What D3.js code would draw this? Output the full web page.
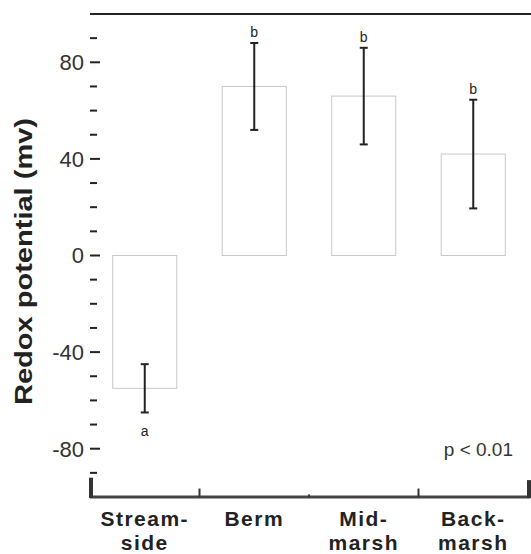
<!DOCTYPE html>
<html>
<head>
<meta charset="utf-8">
<script src="https://cdn.jsdelivr.net/npm/d3@7"></script>
<style>
body { margin: 0; background: white; }
text { font-family: "Liberation Sans", Arial, sans-serif; }
</style>
</head>
<body>
<svg width="531" height="554"></svg>
<script>
'use strict';

// chart values
const sites = ['Stream-side', 'Berm', 'Mid-marsh', 'Back-marsh'];
const siteLines = [['Stream-', 'side'], ['Berm'], ['Mid-', 'marsh'], ['Back-', 'marsh']];
const means = [-55, 70, 66, 42];
const errors = [10, 18, 20, 22.5];
const letters = ['a', 'b', 'b', 'b'];
const majorTicks = [-80, -40, 0, 40, 80];
const minorTicks = [-90, -70, -60, -50, -30, -20, -10, 10, 20, 30, 50, 60, 70, 90];

const opts = {
	left: 90,
	right: 528,
	top: 14,
	bottom: 497,
	ink: '#222'
};

const svg = d3.select('svg');

const x = d3.scaleBand()
	.domain(sites)
	.range([opts.left, opts.right]);

const y = d3.scaleLinear()
	.domain([-100, 100])
	.range([opts.bottom, opts.top]);

const barW = x.bandwidth() * 0.585;
const cx = (d) => x(d) + x.bandwidth() / 2;

// top frame line
svg.append('line')
	.attr('x1', opts.left).attr('x2', 531)
	.attr('y1', y(100)).attr('y2', y(100))
	.attr('stroke', opts.ink).attr('stroke-width', 2);

// y ticks, drawn inward
const yAxis = svg.append('g');
yAxis.selectAll('.major')
	.data(majorTicks)
	.join('line')
	.attr('x1', opts.left).attr('x2', opts.left + 10)
	.attr('y1', d => y(d)).attr('y2', d => y(d))
	.attr('stroke', opts.ink).attr('stroke-width', 2);
yAxis.selectAll('.minor')
	.data(minorTicks)
	.join('line')
	.attr('x1', opts.left).attr('x2', opts.left + 7)
	.attr('y1', d => y(d)).attr('y2', d => y(d))
	.attr('stroke', opts.ink).attr('stroke-width', 2);
yAxis.selectAll('text')
	.data(majorTicks)
	.join('text')
	.attr('x', opts.left - 6)
	.attr('y', d => y(d))
	.attr('dy', '0.36em')
	.attr('text-anchor', 'end')
	.attr('font-size', 22)
	.attr('fill', '#333')
	.text(d => d);

// y title
svg.append('text')
	.attr('transform', `translate(24, ${(118 + 405) / 2}) rotate(-90)`)
	.attr('text-anchor', 'middle')
	.attr('dy', '0.36em')
	.attr('font-size', 23)
	.attr('font-weight', 'bold')
	.attr('fill', opts.ink)
	.attr('textLength', 287)
	.attr('lengthAdjust', 'spacingAndGlyphs')
	.text('Redox potential (mv)');

// bars
svg.selectAll('.bar')
	.data(sites)
	.join('rect')
	.attr('class', 'bar')
	.attr('x', d => cx(d) - barW / 2)
	.attr('width', barW)
	.attr('y', (d, i) => y(Math.max(0, means[i])))
	.attr('height', (d, i) => Math.abs(y(means[i]) - y(0)))
	.attr('fill', 'white')
	.attr('stroke', '#c8c8c8')
	.attr('stroke-width', 1);

// error bars
const eb = svg.selectAll('.err')
	.data(sites)
	.join('g')
	.attr('class', 'err')
	.attr('stroke', opts.ink)
	.attr('stroke-width', 2);
eb.append('line')
	.attr('x1', d => cx(d)).attr('x2', d => cx(d))
	.attr('y1', (d, i) => y(means[i] + errors[i]))
	.attr('y2', (d, i) => y(means[i] - errors[i]));
eb.append('line')
	.attr('x1', d => cx(d) - 4).attr('x2', d => cx(d) + 4)
	.attr('y1', (d, i) => y(means[i] + errors[i]))
	.attr('y2', (d, i) => y(means[i] + errors[i]));
eb.append('line')
	.attr('x1', d => cx(d) - 4).attr('x2', d => cx(d) + 4)
	.attr('y1', (d, i) => y(means[i] - errors[i]))
	.attr('y2', (d, i) => y(means[i] - errors[i]));

// significance letters
svg.selectAll('.letter')
	.data(sites)
	.join('text')
	.attr('class', 'letter')
	.attr('x', d => cx(d))
	.attr('y', (d, i) => means[i] < 0 ? y(means[i] - errors[i]) + 24 : y(means[i] + errors[i]) - 6)
	.attr('text-anchor', 'middle')
	.attr('font-size', 14)
	.attr('fill', opts.ink)
	.text((d, i) => letters[i]);

// x axis line and ticks
const xAxis = svg.append('g');
xAxis.append('line')
	.attr('x1', opts.left).attr('x2', opts.right + 2)
	.attr('y1', y(-100)).attr('y2', y(-100))
	.attr('stroke', '#444').attr('stroke-width', 3);
xAxis.append('line')
	.attr('x1', opts.left + 1).attr('x2', opts.left + 1)
	.attr('y1', y(-100) + 1).attr('y2', y(-92))
	.attr('stroke', '#333').attr('stroke-width', 4);
xAxis.append('line')
	.attr('x1', opts.right + 1).attr('x2', opts.right + 1)
	.attr('y1', y(-100) + 1).attr('y2', y(-93))
	.attr('stroke', '#333').attr('stroke-width', 4);
xAxis.selectAll('.xt')
	.data(sites.slice(1))
	.join('line')
	.attr('class', 'xt')
	.attr('x1', d => x(d)).attr('x2', d => x(d))
	.attr('y1', y(-100))
	.attr('y2', (d, i) => i === 1 ? y(-99) : y(-96.5))
	.attr('stroke', '#333').attr('stroke-width', 2);

// category labels, one text per line
xAxis.selectAll('.xl')
	.data(sites.flatMap((d, i) => siteLines[i].map((t, k) => ({ t, k, c: cx(d) }))))
	.join('text')
	.attr('class', 'xl')
	.attr('x', d => d.c)
	.attr('y', d => 526 + d.k * 24)
	.attr('text-anchor', 'middle')
	.attr('font-size', 21)
	.attr('font-weight', 'bold')
	.attr('letter-spacing', 1.5)
	.attr('fill', opts.ink)
	.text(d => d.t);

// p value note
svg.append('text')
	.attr('x', 513)
	.attr('y', 456)
	.attr('text-anchor', 'end')
	.attr('font-size', 19)
	.attr('fill', '#333')
	.text('p < 0.01');
</script>
</body>
</html>
